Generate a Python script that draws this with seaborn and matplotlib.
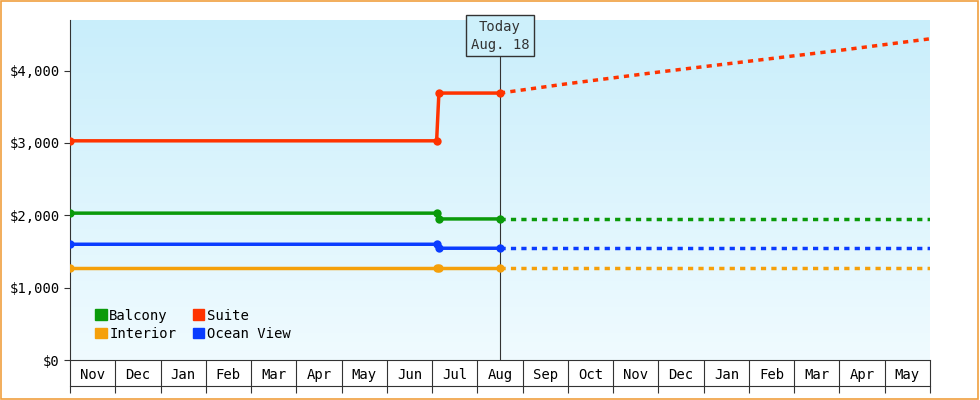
import numpy as np
import pandas as pd
import matplotlib
matplotlib.use("Agg")
import matplotlib.pyplot as plt
import seaborn as sns

months = ["Nov", "Dec", "Jan", "Feb", "Mar", "Apr", "May", "Jun", "Jul", "Aug",
          "Sep", "Oct", "Nov", "Dec", "Jan", "Feb", "Mar", "Apr", "May"]

# x in months since start of first Nov
hist_x = [0.0, 8.1, 8.15, 9.5]
suite_hist = [3030, 3030, 3690, 3690]
balcony_hist = [2030, 2030, 1950, 1950]
ocean_hist = [1600, 1600, 1545, 1545]
interior_hist = [1270, 1270, 1270, 1270]

proj_x = [9.5, 11, 13, 15, 17, 19]
suite_proj = [3690, 3820, 3980, 4130, 4280, 4440]
balcony_proj = [1950] * 6
ocean_proj = [1545] * 6
interior_proj = [1270] * 6

colors = {"Balcony": "#0a9a0a", "Suite": "#ff3300",
          "Interior": "#f5a00a", "Ocean View": "#0a3cff"}
hist = {"Balcony": balcony_hist, "Suite": suite_hist,
        "Interior": interior_hist, "Ocean View": ocean_hist}
proj = {"Balcony": balcony_proj, "Suite": suite_proj,
        "Interior": interior_proj, "Ocean View": ocean_proj}

plt.rcParams["font.family"] = "DejaVu Sans Mono"
fig = plt.figure(figsize=(9.8, 4.0), dpi=100)
fig.patches.append(plt.Rectangle((0.001, 0.002), 0.997, 0.995, transform=fig.transFigure,
                                 fill=False, edgecolor="#f0a040", lw=1.2))
ax = fig.add_axes([70 / 980, 40 / 400, 860 / 980, 340 / 400])

grad = np.linspace(0, 1, 256).reshape(-1, 1)
cmap = matplotlib.colors.LinearSegmentedColormap.from_list("bg", ["#c9eefb", "#f0fbff"])
ax.imshow(grad, extent=[0, 19, 0, 4700], aspect="auto", cmap=cmap, zorder=0)

for name in ["Balcony", "Suite", "Interior", "Ocean View"]:
    c = colors[name]
    df = pd.DataFrame({"x": hist_x, "y": hist[name]})
    sns.lineplot(data=df, x="x", y="y", ax=ax, color=c, lw=2.5, sort=False,
                 estimator=None, marker="o", markersize=6, markeredgewidth=0,
                 label=name, zorder=3)
    dp = pd.DataFrame({"x": proj_x, "y": proj[name]})
    sns.lineplot(data=dp, x="x", y="y", ax=ax, color=c, lw=2.5, sort=False,
                 estimator=None, linestyle=(0, (1.5, 1.5)), zorder=3)

ax.axvline(9.5, color="#333333", lw=0.8, zorder=2)
ax.text(9.5, 4480, "Today\nAug. 18", ha="center", va="center", fontsize=10,
        color="#333333", linespacing=1.3,
        bbox=dict(boxstyle="square,pad=0.35", fc="#cdf0fb", ec="#333333", lw=1), zorder=5)

ax.set_xlim(0, 19)
ax.set_ylim(0, 4700)
ax.set_yticks([0, 1000, 2000, 3000, 4000])
ax.set_yticklabels(["$0", "$1,000", "$2,000", "$3,000", "$4,000"])
ax.set_xticks(range(20))
ax.set_xticklabels([])
ax.tick_params(axis="x", which="major", length=24, width=0.8, color="#333333")
ax.set_xticks(np.arange(19) + 0.5, minor=True)
ax.set_xticklabels(months, minor=True)
ax.tick_params(axis="x", which="minor", length=0, pad=6, labelsize=10)
ax.tick_params(axis="y", labelsize=10, length=4, color="#333333")
ax.plot([0, 19], [-0.075, -0.075], transform=ax.get_xaxis_transform(), color="#333333",
        lw=0.8, clip_on=False)
for s in ["top", "right"]:
    ax.spines[s].set_visible(False)
ax.spines["left"].set_color("#333333")
ax.spines["bottom"].set_color("#333333")
ax.set_xlabel("")
ax.set_ylabel("")

handles = [plt.Rectangle((0, 0), 1, 1, color=colors[n]) for n in ["Balcony", "Interior", "Suite", "Ocean View"]]
ax.legend(handles, ["Balcony", "Interior", "Suite", "Ocean View"], ncol=2, loc="lower left",
          bbox_to_anchor=(0.015, 0.02), frameon=False, fontsize=10, handlelength=0.8,
          handleheight=0.8, handletextpad=0.2, columnspacing=1.2, labelspacing=0.3)

fig.savefig("out.png", dpi=100)
